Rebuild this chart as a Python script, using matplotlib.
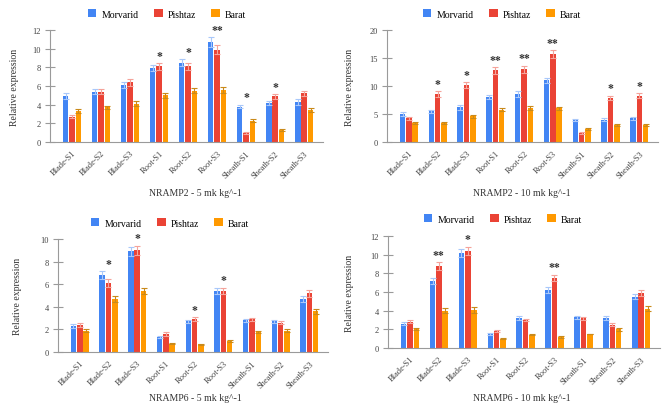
import matplotlib
matplotlib.use("Agg")
import matplotlib.pyplot as plt
from matplotlib.patches import Patch
import numpy as np

plt.rcParams['font.family'] = ['Liberation Serif', 'DejaVu Serif']

categories = ["Blade-S1", "Blade-S2", "Blade-S3", "Root-S1", "Root-S2", "Root-S3",
              "Sheath-S1", "Sheath-S2", "Sheath-S3"]
series_names = ["Morvarid", "Pishtaz", "Barat"]
colors = ["#4285F4", "#EA4335", "#FF9900"]
err_colors = ["#A9C8FA", "#F5A39A", "#C98A1A"]

# Panel 1: NRAMP2 - 5 mk kg^-1
p1_m = [4.9, 5.4, 6.1, 7.9, 8.5, 10.7, 3.8, 4.2, 4.3]
p1_p = [2.7, 5.4, 6.4, 8.1, 8.1, 9.9, 1.0, 4.9, 5.2]
p1_b = [3.3, 3.7, 4.1, 5.0, 5.5, 5.6, 2.3, 1.3, 3.4]
p1_me = [0.3, 0.3, 0.3, 0.3, 0.4, 0.5, 0.2, 0.2, 0.3]
p1_pe = [0.15, 0.3, 0.35, 0.35, 0.4, 0.45, 0.1, 0.25, 0.25]
p1_be = [0.2, 0.2, 0.25, 0.25, 0.3, 0.3, 0.15, 0.1, 0.2]
p1_stars = ["", "", "", "*", "*", "**", "*", "*", ""]

# Panel 2: NRAMP2 - 10 mk kg^-1
p2_m = [5.0, 5.5, 6.2, 8.0, 8.6, 11.0, 3.9, 4.0, 4.2]
p2_p = [4.2, 8.6, 10.2, 12.8, 13.0, 15.7, 1.6, 7.9, 8.3]
p2_b = [3.4, 3.4, 4.6, 5.8, 6.1, 6.0, 2.3, 3.0, 3.0]
p2_me = [0.3, 0.3, 0.4, 0.4, 0.5, 0.5, 0.2, 0.3, 0.3]
p2_pe = [0.3, 0.5, 0.5, 0.6, 0.6, 0.7, 0.1, 0.4, 0.4]
p2_be = [0.2, 0.2, 0.3, 0.3, 0.3, 0.3, 0.15, 0.2, 0.2]
p2_stars = ["", "*", "*", "**", "**", "**", "", "*", "*"]

# Panel 3: NRAMP6 - 5 mk kg^-1
p3_m = [2.3, 6.8, 8.9, 1.3, 2.7, 5.4, 2.8, 2.7, 4.7]
p3_p = [2.4, 6.1, 9.0, 1.6, 2.9, 5.4, 2.9, 2.6, 5.2]
p3_b = [1.9, 4.7, 5.4, 0.75, 0.7, 1.0, 1.8, 1.9, 3.6]
p3_me = [0.15, 0.35, 0.4, 0.1, 0.15, 0.25, 0.15, 0.15, 0.25]
p3_pe = [0.15, 0.35, 0.4, 0.15, 0.2, 0.3, 0.15, 0.15, 0.3]
p3_be = [0.1, 0.25, 0.3, 0.05, 0.05, 0.1, 0.1, 0.1, 0.2]
p3_stars = ["", "*", "*", "", "*", "*", "", "", ""]

# Panel 4: NRAMP6 - 10 mk kg^-1
p4_m = [2.6, 7.2, 10.2, 1.5, 3.2, 6.2, 3.3, 3.2, 5.5]
p4_p = [2.8, 8.8, 10.4, 1.8, 3.0, 7.5, 3.2, 2.5, 5.9]
p4_b = [2.0, 4.0, 4.1, 1.0, 1.4, 1.2, 1.5, 2.0, 4.2]
p4_me = [0.15, 0.35, 0.45, 0.1, 0.2, 0.3, 0.15, 0.2, 0.3]
p4_pe = [0.15, 0.4, 0.45, 0.1, 0.1, 0.35, 0.15, 0.15, 0.3]
p4_be = [0.1, 0.25, 0.3, 0.05, 0.05, 0.1, 0.05, 0.15, 0.25]
p4_stars = ["", "**", "*", "", "", "**", "", "", ""]

panels = [
    dict(vals=[p1_m, p1_p, p1_b], errs=[p1_me, p1_pe, p1_be], stars=p1_stars,
         ymax=12, ystep=2, title="NRAMP2 - 5 mk kg^-1",
         box=(50, 323, 143, 31), legend=(167, 15), ylab=19, xlab=(195, 193)),
    dict(vals=[p2_m, p2_p, p2_b], errs=[p2_me, p2_pe, p2_be], stars=p2_stars,
         ymax=20, ystep=5, title="NRAMP2 - 10 mk kg^-1",
         box=(387, 658, 143, 31), legend=(502, 15), ylab=354, xlab=(522, 193)),
    dict(vals=[p3_m, p3_p, p3_b], errs=[p3_me, p3_pe, p3_be], stars=p3_stars,
         ymax=10, ystep=2, title="NRAMP6 - 5 mk kg^-1",
         box=(58, 328, 353, 240), legend=(170, 224), ylab=22, xlab=(195, 399)),
    dict(vals=[p4_m, p4_p, p4_b], errs=[p4_me, p4_pe, p4_be], stars=p4_stars,
         ymax=12, ystep=2, title="NRAMP6 - 10 mk kg^-1",
         box=(388, 660, 349, 237), legend=(503, 220), ylab=354, xlab=(522, 399)),
]

W, H = 669, 414
fig = plt.figure(figsize=(W / 100, H / 100), dpi=100)

x = np.arange(len(categories))
bw = 0.19
offs = [-0.22, 0, 0.22]
axis_col = "#9a9a9a"

for pnl in panels:
    l, r, b, t = pnl["box"]
    ax = fig.add_axes([l / W, 1 - b / H, (r - l) / W, (b - t) / H])
    for i in range(3):
        ax.bar(x + offs[i], pnl["vals"][i], width=bw, color=colors[i], zorder=2)
        ax.errorbar(x + offs[i], pnl["vals"][i], yerr=pnl["errs"][i], fmt="none",
                    ecolor=err_colors[i], elinewidth=0.8, capsize=2.2, capthick=0.8, zorder=3)
    tops = np.max(np.array(pnl["vals"]) + np.array(pnl["errs"]), axis=0)
    for j, s in enumerate(pnl["stars"]):
        if s:
            ax.annotate(s, (x[j], tops[j]), xytext=(0, 1), textcoords="offset points",
                        ha="center", va="bottom", fontsize=8.5, color="#333333",
                        fontweight="bold")
    ax.set_ylim(0, pnl["ymax"])
    ax.set_xlim(-0.76, 8.65)
    ax.set_yticks(np.arange(0, pnl["ymax"] + 0.01, pnl["ystep"]))
    ax.set_xticks(x)
    ax.set_xticklabels(categories, rotation=45, ha="right", rotation_mode="anchor",
                       fontsize=6, color="#444444")
    ax.tick_params(axis="x", length=0, pad=5)
    ax.tick_params(axis="y", direction="inout", length=7, width=0.8, color=axis_col,
                   labelsize=6, labelcolor="#444444", pad=3)
    for sp in ["top", "right"]:
        ax.spines[sp].set_visible(False)
    for sp in ["left", "bottom"]:
        ax.spines[sp].set_color(axis_col)
        ax.spines[sp].set_linewidth(0.8)
    ax.set_ylabel("Relative expression", fontsize=7, color="#333333")
    ax.yaxis.set_label_coords((pnl["ylab"] - l) / (r - l), 0.5)
    xl, yl = pnl["xlab"]
    fig.text(xl / W, 1 - yl / H, pnl["title"], fontsize=7, color="#333333",
             ha="center", va="center")
    lx, ly = pnl["legend"]
    handles = [Patch(facecolor=c, edgecolor="none") for c in colors]
    fig.legend(handles, series_names, loc="center", bbox_to_anchor=(lx / W, 1 - ly / H),
               ncol=3, frameon=False, fontsize=7, handlelength=0.9, handleheight=0.9,
               handletextpad=0.5, columnspacing=1.6)

fig.savefig("out.png", dpi=100)
